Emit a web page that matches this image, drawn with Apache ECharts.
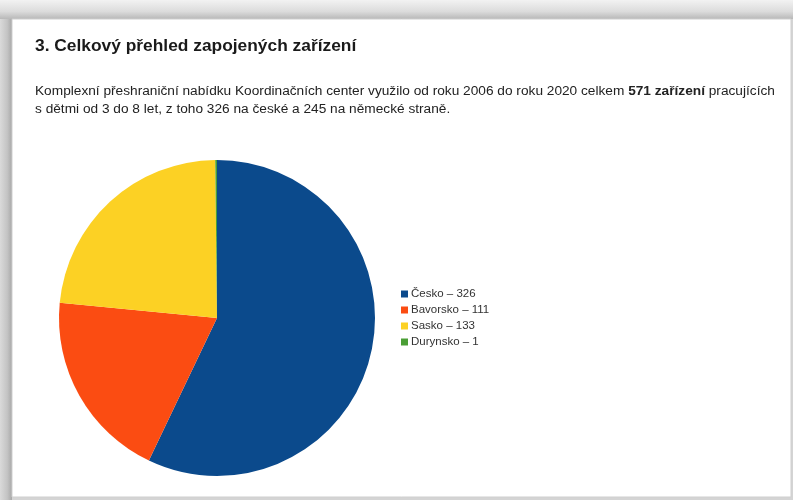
<!DOCTYPE html>
<html>
<head>
<meta charset="utf-8">
<script src="https://cdn.jsdelivr.net/npm/echarts@6/dist/echarts.min.js"></script>
<style>
    html, body { margin: 0; padding: 0; background: #d9d9d9; }
    #chart { width: 793px; height: 500px; }
</style>
</head>
<body>
<div id="chart"></div>
<script>
// Chart data
const regions = ['Česko', 'Bavorsko', 'Sasko', 'Durynsko'];
const counts = [326, 111, 133, 1];
const sliceColors = ['#0b4a8c', '#fb4c12', '#fcd124', '#4a9e35'];

const titleText = '3. Celkový přehled zapojených zařízení';
const introStart = 'Komplexní přeshraniční nabídku Koordinačních center využilo od roku 2006 do roku 2020 celkem ';
const introBold = '571 zařízení';
const introEnd = ' pracujících';
const introLine2 = 's dětmi od 3 do 8 let, z toho 326 na české a 245 na německé straně.';

document.addEventListener('DOMContentLoaded', function() {
    const chart = echarts.init(document.getElementById('chart'));
    const font = '"Liberation Sans", Arial, sans-serif';

    const option = {
        backgroundColor: '#d4d4d4',
        animation: false,
        graphic: [
            // page frame (screenshot border)
            {
                type: 'rect', z: -10,
                shape: { x: 0, y: 0, width: 793, height: 19 },
                style: {
                    fill: new echarts.graphic.LinearGradient(0, 0, 0, 1, [
                        { offset: 0, color: '#f2f2f2' },
                        { offset: 0.6, color: '#dcdcdc' },
                        { offset: 1, color: '#b8b8b8' }
                    ])
                }
            },
            {
                type: 'rect', z: -10,
                shape: { x: 0, y: 19, width: 12, height: 481 },
                style: {
                    fill: new echarts.graphic.LinearGradient(0, 0, 1, 0, [
                        { offset: 0, color: '#dadada' },
                        { offset: 0.6, color: '#c4c4c4' },
                        { offset: 1, color: '#a8a8a8' }
                    ])
                }
            },
            {
                type: 'rect', z: -9,
                shape: { x: 12, y: 19, width: 779, height: 478 },
                style: { fill: '#ffffff', stroke: '#cfcfcf', lineWidth: 1 }
            },
            {
                type: 'text', x: 35, y: 39, scaleX: 1.085,
                style: { x: 0, y: 0, text: titleText, font: 'bold 16px ' + font, fill: '#1a1a1a', verticalAlign: 'top' }
            },
            {
                type: 'text', x: 35, y: 86, scaleX: 1.14,
                style: {
                    x: 0, y: 0,
                    verticalAlign: 'top',
                    text: '{n|' + introStart + '}{b|' + introBold + '}{n|' + introEnd + '}',
                    rich: {
                        n: { font: '12px ' + font, fill: '#222' },
                        b: { font: 'bold 12px ' + font, fill: '#222' }
                    }
                }
            },
            {
                type: 'text', x: 35, y: 104, scaleX: 1.14,
                style: { x: 0, y: 0, text: introLine2, font: '12px ' + font, fill: '#222', verticalAlign: 'top' }
            }
        ],
        legend: {
            orient: 'vertical',
            left: 401,
            top: 288,
            padding: 0,
            icon: 'rect',
            itemWidth: 7,
            itemHeight: 7,
            itemGap: 4,
            textStyle: { fontFamily: font, fontSize: 11.5, color: '#333', padding: [0, 0, 0, -2] },
            formatter: function(name) {
                return name + ' – ' + counts[regions.indexOf(name)];
            },
            data: regions
        },
        series: [{
            type: 'pie',
            center: [217, 318],
            radius: 158,
            startAngle: 90,
            clockwise: true,
            label: { show: false },
            labelLine: { show: false },
            emphasis: { disabled: true },
            data: regions.map((r, i) => ({
                name: r,
                value: counts[i],
                itemStyle: { color: sliceColors[i] }
            }))
        }]
    };

    chart.setOption(option);
});
</script>
</body>
</html>
